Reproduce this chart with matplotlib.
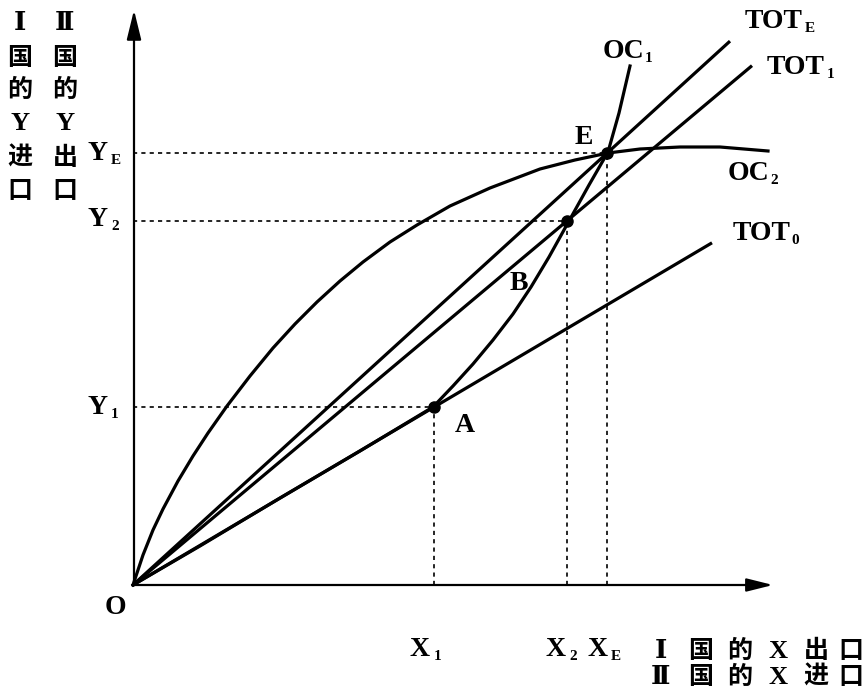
import numpy as np
import matplotlib
matplotlib.use('Agg')
import matplotlib.pyplot as plt

plt.rcParams['font.family'] = ['Liberation Serif', 'DejaVu Serif', 'Noto Sans CJK SC']
plt.rcParams['font.weight'] = 'bold'

# diagram values, origin O = (0, 0)
x_marks = [301, 434, 474]          # X1, X2, XE
y_marks = [178, 364, 432]          # Y1, Y2, YE
tot_names = ['0', '1', 'E']
tot_slopes = [0.591, 0.839, 0.911]  # TOT0, TOT1, TOTE
tot_end_x = [579, 619, 597]

oc1_x = [0, 67, 147, 227, 300, 320, 340, 360, 380, 398, 416, 436, 456, 475, 486, 497]
oc1_y = [0, 39, 87, 134, 178, 199, 221, 245, 271, 298, 328, 364, 400, 433, 472, 519]

oc2_x = [0, 10, 20, 30, 45, 60, 75, 94, 117, 140, 162, 184, 207, 230, 257, 284,
         317, 357, 407, 442, 475, 507, 547, 587, 635]
oc2_y = [0, 30, 55, 76, 104, 129, 152, 179, 209, 237, 261, 283, 304, 323, 343, 360,
         379, 397, 416, 425, 432, 436, 438, 438, 434]

x_axis_len = 640
y_axis_len = 575

CJK = ['Noto Sans CJK SC']
LAT = ['Liberation Serif', 'DejaVu Serif', 'Noto Sans CJK SC']


def label(ax, x, y, main, sub=None, size=20, sub_dx=None):
    ax.text(x, y, main, fontsize=size, family=LAT, weight='bold',
            ha='left', va='center')
    if sub is not None:
        ax.text(x + sub_dx, y - 7, sub, fontsize=11, family=LAT, weight='bold',
                ha='left', va='center')


def cjk_char(ax, x, y, ch):
    if ch in 'YXⅠⅡ':
        ax.text(x, y, ch, fontsize=19, family=LAT, weight='bold',
                ha='center', va='center')
    else:
        ax.text(x, y, ch, fontsize=18, family=CJK, weight='bold',
                ha='center', va='center')


def main():
    fig = plt.figure(figsize=(8.65, 6.9), dpi=100)
    ax = fig.add_axes([0, 0, 1, 1])
    ax.set_xlim(-133, 732)
    ax.set_ylim(-105, 585)
    ax.axis('off')

    # axes with arrows
    ax.annotate('', xy=(1, y_axis_len), xytext=(1, 0),
                arrowprops=dict(arrowstyle='-|>,head_length=0.9,head_width=0.22',
                                lw=1.6, color='black', shrinkA=0, shrinkB=0,
                                mutation_scale=20))
    ax.annotate('', xy=(x_axis_len, 0), xytext=(0, 0),
                arrowprops=dict(arrowstyle='-|>,head_length=0.8,head_width=0.2',
                                lw=1.6, color='black', shrinkA=0, shrinkB=0,
                                mutation_scale=20))

    # dotted guide lines
    for xm, ym in zip(x_marks, y_marks):
        ax.plot([xm, xm], [0, ym], color='black', lw=1.2, ls=(0, (2.5, 2.5)))
        ax.plot([0, xm], [ym, ym], color='black', lw=1.2, ls=(0, (2.5, 2.5)))

    # terms of trade lines
    for s, xe in zip(tot_slopes, tot_end_x):
        ax.plot([0, xe], [0, s * xe], color='black', lw=2.3,
                solid_capstyle='butt')

    # offer curves
    ax.plot(oc1_x, oc1_y, color='black', lw=2.3, solid_joinstyle='round')
    ax.plot(oc2_x, oc2_y, color='black', lw=2.3, solid_joinstyle='round')

    ax.plot(x_marks, y_marks, 'o', ms=8, color='black')

    # curve labels
    label(ax, 612, 563, 'TOT', 'E', sub_dx=60)
    label(ax, 634, 518, 'TOT', '1', sub_dx=60)
    label(ax, 600, 352, 'TOT', '0', sub_dx=58)
    label(ax, 470, 533, 'OC', '1', sub_dx=42)
    label(ax, 595, 412, 'OC', '2', sub_dx=42)
    label(ax, 442, 447, 'E')
    label(ax, 377, 302, 'B')
    label(ax, 322, 160, 'A')
    label(ax, -28, -23, 'O')

    # axis tick labels
    label(ax, 277, -64, 'X', '1', sub_dx=24)
    label(ax, 412, -64, 'X', '2', sub_dx=24)
    label(ax, 454, -64, 'X', 'E', sub_dx=24)
    label(ax, -45, 432, 'Y', 'E', sub_dx=23)
    label(ax, -45, 365, 'Y', '2', sub_dx=23)
    label(ax, -45, 178, 'Y', '1', sub_dx=23)

    # axis titles
    rows_y = [562, 527, 495, 462, 427, 394]
    for yy, c1, c2 in zip(rows_y, ['Ⅰ', '国', '的', 'Y', '进', '口'],
                          ['Ⅱ', '国', '的', 'Y', '出', '口']):
        cjk_char(ax, -113, yy, c1)
        cjk_char(ax, -68, yy, c2)
    cols_x = [528, 568, 607, 645, 683, 718]
    for xx, c1, c2 in zip(cols_x, ['Ⅰ', '国', '的', 'X', '出', '口'],
                          ['Ⅱ', '国', '的', 'X', '进', '口']):
        cjk_char(ax, xx, -66, c1)
        cjk_char(ax, xx, -92, c2)

    fig.savefig('out.png', dpi=100)


if __name__ == '__main__':
    main()
